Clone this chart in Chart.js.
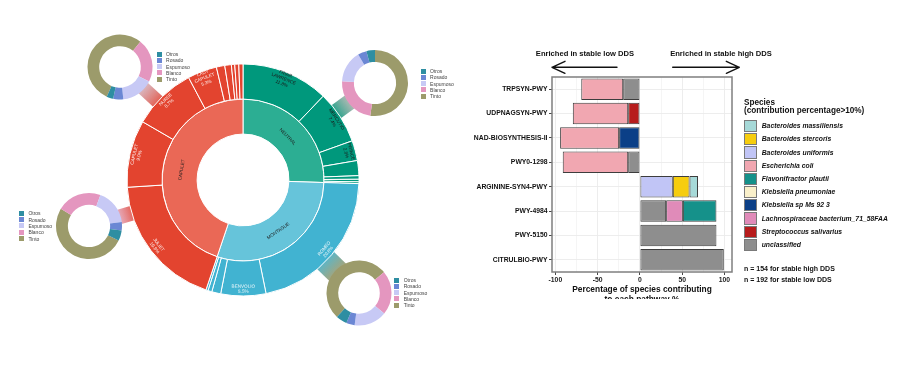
<!DOCTYPE html>
<html><head><meta charset="utf-8">
<script src="https://cdn.jsdelivr.net/npm/chart.js@4.4.1/dist/chart.umd.min.js"></script>
<style>
html,body{margin:0;padding:0;background:#fff;width:900px;height:383px;overflow:hidden;font-family:"Liberation Sans",Arial,sans-serif;}
canvas{position:absolute;}
.lg{position:absolute;font-size:5px;color:#444;}
.lg .row{position:absolute;left:0;height:6.3px;display:flex;align-items:center;white-space:nowrap;}
.lg .bx{display:inline-block;width:5px;height:5px;margin-right:4.4px;}
#barwrap{position:absolute;left:440px;top:40px;width:360px;height:259px;overflow:hidden;}
.bl{position:absolute;white-space:nowrap;font-weight:bold;color:#111;}
.key{position:absolute;box-sizing:border-box;border:1px solid #7a7a7a;width:13px;height:12.3px;}
</style></head><body>
<canvas id="sun" width="440" height="383" style="left:0;top:0;width:440px;height:383px"></canvas>
<div id="donuts"></div>
<div id="barwrap"><canvas id="bars" width="360" height="266" style="left:0;top:0;width:360px;height:266px"></canvas></div>
<div id="barlegend"></div>
<script>
// ---------- Sunburst data ----------
const innerLabels = ['NEUTRAL','MONTAGUE','CAPULET'];
const innerValues = [25.6, 29.8, 45.0];
const innerColors = ['#2CAE93','#66C4DA','#EA6856'];

const outerNames = ['FRIAR LAWRENCE','MERCUTIO','PRINCE','PARIS','APOTHECARY','FRIAR JOHN','PAGE',
  'ROMEO','BENVOLIO','BALTHASAR','LADY MONTAGUE','ABRAHAM',
  'JULIET','CAPULET','NURSE','LADY CAPULET','TYBALT','SAMPSON','GREGORY','PETER','SERVANT'];
const outerParents = [0,0,0,0,0,0,0, 1,1,1,1,1, 2,2,2,2,2,2,2,2,2];
const outerValues = [12.2,7.4,2.8,2.1,0.5,0.35,0.25,
  21.4,6.3,1.25,0.55,0.3,
  18.9,9.4,8.9,4.1,1.17,0.92,0.47,0.56,0.58];
const outerText = ['FRIAR\nLAWRENCE\n11.8%','MERCUTIO\n7.4%','PRINCE\n2.8%','','','','',
  'ROMEO\n20.8%','BENVOLIO\n5.5%','','','',
  'JULIET\n19.8%','CAPULET\n9.0%','NURSE\n8.7%','LADY\nCAPULET\n5.3%','','','','',''];
const outerColorsByParent = ['#00987C','#41B3D1','#E3442F'];
const outerTextColorsByParent = ['#1a1a1a','rgba(255,255,255,0.92)','rgba(255,255,255,0.92)'];

// ---------- Callout donuts ----------
const donutCats = ['Otros','Rosado','Espumoso','Blanco','Tinto'];
const donutColors = ['#2E8EA2','#6B87D4','#C7C9F5','#E496BF','#9C9B6B'];
const donutNurse    = [3.3, 5.0, 16.0, 21.6, 54.1];
const donutMercutio = [4.2, 4.3, 15.7, 23.5, 52.3];
const donutJuliet   = [5.0, 4.1, 17.5, 21.9, 51.5];
const donutRomeo    = [5.5, 4.2, 16.3, 21.9, 52.1];

const callouts = [
  {values: donutNurse,    cx:120, cy:66.7, r:32.5, rot:204,   w:14, c0:'rgba(226,68,50,0.92)', c1:'rgba(205,158,168,0.75)', lgx:156.7, lgy:50.9},
  {values: donutMercutio, cx:375, cy:83.3, r:33,   rot:0,     w:16, c0:'rgba(0,152,124,0.92)', c1:'rgba(140,162,152,0.75)', lgx:420.7, lgy:67.9},
  {values: donutJuliet,   cx:89.3,cy:226,  r:33,   rot:116,   w:15, c0:'rgba(226,68,50,0.92)', c1:'rgba(222,140,160,0.75)', lgx:19,    lgy:210.2},
  {values: donutRomeo,    cx:359.3,cy:293.3,r:32.5,rot:222.7, w:24, c0:'rgba(65,179,209,0.92)', c1:'rgba(152,152,106,0.88)', lgx:394.3, lgy:276.9}
];

// ---------- Bar chart data ----------
const pathways = ['TRPSYN-PWY','UDPNAGSYN-PWY','NAD-BIOSYNTHESIS-II','PWY0-1298','ARGININE-SYN4-PWY','PWY-4984','PWY-5150','CITRULBIO-PWY'];
const speciesNames = ['Bacteroides massiliensis','Bacteroides stercoris','Bacteroides uniformis','Escherichia coli','Flavonifractor plautii','Klebsiella pneumoniae','Klebsiella sp Ms 92 3','Lachnospiraceae bacterium_71_58FAA','Streptococcus salivarius','unclassified'];
const speciesColors = ['#A6D9D8','#F6CD0F','#C1C5F6','#F1A7B1','#15918A','#FAF0CA','#0B3F87','#E08BB9','#B71C1C','#8E8E8E'];
const bMassiliensis = [null,null,null,null,10.0,null,null,null];
const bStercoris    = [null,null,null,null,19.8,null,null,null];
const bUniformis    = [null,null,null,null,38.9,null,null,null];
const eColi         = [-49.6,-65.5,-69.8,-77.4,null,null,null,null];
const fPlautii      = [null,null,null,null,null,39.7,null,null];
const kPneumoniae   = [null,null,null,null,null,null,null,null];
const kSpMs923      = [null,null,-24.6,null,null,null,null,null];
const lachno        = [null,null,null,null,null,19.8,null,null];
const sSalivarius   = [null,-13.9,null,null,null,null,null,null];
const unclassified  = [-19.8,null,null,-13.9,null,31.0,90.5,99.2];
const xTickValues = [-100,-75,-50,-25,0,25,50,75,100];
const xAxisTitle = ['Percentage of species contributing','to each pathway %'];
const enrichedLow = 'Enriched in stable low DDS';
const enrichedHigh = 'Enriched in stable high DDS';
const legendTitle = ['Species','(contribution percentage>10%)'];
const nNotes = ['n = 154 for stable high DDS','n = 192 for stable low DDS'];

const FONT = '"Liberation Sans", Arial, sans-serif';

// ---------- Sunburst ----------
const connectorPlugin = {
  id:'connectors',
  beforeDatasetsDraw(chart){
    const ctx = chart.ctx;
    const arc0 = chart.getDatasetMeta(0).data[0];
    const C = {x: arc0.x, y: arc0.y};
    callouts.forEach(c=>{
      const dx = c.cx - C.x, dy = c.cy - C.y, d = Math.hypot(dx,dy);
      const ux = dx/d, uy = dy/d, nx = -uy, ny = ux;
      const s = 100, e = d - Math.sqrt(c.r*c.r - (c.w/2)*(c.w/2)) + 0.5;
      const g = ctx.createLinearGradient(C.x+ux*112, C.y+uy*112, C.x+ux*e, C.y+uy*e);
      g.addColorStop(0, c.c0); g.addColorStop(1, c.c1);
      ctx.save();
      ctx.fillStyle = g;
      ctx.beginPath();
      ctx.moveTo(C.x+ux*s+nx*c.w/2, C.y+uy*s+ny*c.w/2);
      ctx.lineTo(C.x+ux*e+nx*c.w/2, C.y+uy*e+ny*c.w/2);
      ctx.lineTo(C.x+ux*e-nx*c.w/2, C.y+uy*e-ny*c.w/2);
      ctx.lineTo(C.x+ux*s-nx*c.w/2, C.y+uy*s-ny*c.w/2);
      ctx.closePath(); ctx.fill();
      ctx.restore();
    });
  }
};
const sunLabelPlugin = {
  id:'sunLabels',
  afterDatasetsDraw(chart){
    const ctx = chart.ctx;
    const specs = [
      {ds:0, texts: outerText, color: i=>outerTextColorsByParent[outerParents[i]], rf:0.8},
      {ds:1, texts: innerLabels, color: ()=>'#1e1e1e', rf:0.46}
    ];
    specs.forEach(sp=>{
      chart.getDatasetMeta(sp.ds).data.forEach((arc,i)=>{
        const t = sp.texts[i]; if(!t) return;
        const a = (arc.startAngle+arc.endAngle)/2;
        const r = arc.innerRadius + (arc.outerRadius-arc.innerRadius)*sp.rf;
        let rot = a + Math.PI/2;
        rot = Math.atan2(Math.sin(rot), Math.cos(rot));
        if (rot > Math.PI/2) rot -= Math.PI;
        if (rot < -Math.PI/2) rot += Math.PI;
        const lines = t.split('\n');
        ctx.save();
        ctx.translate(arc.x + r*Math.cos(a), arc.y + r*Math.sin(a));
        ctx.rotate(rot);
        ctx.fillStyle = sp.color(i);
        ctx.font = '4.6px ' + FONT;
        ctx.textAlign = 'center'; ctx.textBaseline = 'middle';
        const lh = 5.2;
        lines.forEach((ln,k)=> ctx.fillText(ln, 0, (k-(lines.length-1)/2)*lh));
        ctx.restore();
      });
    });
  }
};
new Chart(document.getElementById('sun'), {
  type:'doughnut',
  data:{
    labels: outerNames,
    datasets:[
      {data: outerValues, backgroundColor: outerParents.map(p=>outerColorsByParent[p]), borderColor:'#fff', borderWidth:1},
      {data: innerValues, backgroundColor: innerColors, borderColor:'#fff', borderWidth:1}
    ]
  },
  options:{
    responsive:false, animation:false, events:[],
    radius:116, cutout:'39.6%',
    layout:{padding:{left:123,right:77,top:60,bottom:83}},
    plugins:{legend:{display:false}, tooltip:{enabled:false}}
  },
  plugins:[connectorPlugin, sunLabelPlugin]
});

// donuts + legends
const dHost = document.getElementById('donuts');
callouts.forEach((c,idx)=>{
  const size = 72;
  const cv = document.createElement('canvas');
  cv.width = size; cv.height = size;
  cv.style.cssText = `left:${c.cx-size/2}px;top:${c.cy-size/2}px;width:${size}px;height:${size}px`;
  dHost.appendChild(cv);
  // chart draws clockwise; reference goes counter-clockwise in category order
  const vals = c.values.slice().reverse();
  const cols = donutColors.slice().reverse();
  new Chart(cv, {
    type:'doughnut',
    data:{labels: donutCats.slice().reverse(), datasets:[{data: vals, backgroundColor: cols, borderWidth:0}]},
    options:{responsive:false, animation:false, events:[], radius:c.r, cutout:'64%', rotation:c.rot,
      plugins:{legend:{display:false}, tooltip:{enabled:false}}}
  });
  const lg = document.createElement('div');
  lg.className = 'lg';
  lg.style.left = c.lgx+'px'; lg.style.top = c.lgy+'px';
  donutCats.forEach((name,k)=>{
    const row = document.createElement('div');
    row.className = 'row'; row.style.top = (k*6.3)+'px';
    row.innerHTML = `<span class="bx" style="background:${donutColors[k]}"></span>${name}`;
    lg.appendChild(row);
  });
  dHost.appendChild(lg);
});

// ---------- Bars ----------
const seriesByName = {
  'Bacteroides massiliensis': bMassiliensis,
  'Bacteroides stercoris': bStercoris,
  'Bacteroides uniformis': bUniformis,
  'Escherichia coli': eColi,
  'Flavonifractor plautii': fPlautii,
  'Klebsiella pneumoniae': kPneumoniae,
  'Klebsiella sp Ms 92 3': kSpMs923,
  'Lachnospiraceae bacterium_71_58FAA': lachno,
  'Streptococcus salivarius': sSalivarius,
  'unclassified': unclassified
};
const stackOrder = ['unclassified','Streptococcus salivarius','Klebsiella sp Ms 92 3','Bacteroides uniformis','Bacteroides stercoris','Bacteroides massiliensis','Lachnospiraceae bacterium_71_58FAA','Flavonifractor plautii','Escherichia coli','Klebsiella pneumoniae'];
const barDatasets = stackOrder.map(n=>({
  label:n, data: seriesByName[n],
  backgroundColor: speciesColors[speciesNames.indexOf(n)],
  borderColor:'#3d3d3d', borderWidth:1, borderSkipped:false,
  barPercentage:0.88, categoryPercentage:1
}));
const barDecor = {
  id:'barDecor',
  afterDatasetsDraw(chart){
    const {ctx, chartArea:a} = chart;
    ctx.save();
    ctx.strokeStyle = '#7f7f7f'; ctx.lineWidth = 1.5;
    ctx.strokeRect(a.left, a.top, a.right-a.left, a.bottom-a.top);
    ctx.restore();
  },
  afterDraw(chart){
    const ctx = chart.ctx;
    const ox = 440, oy = 40;
    ctx.save();
    ctx.fillStyle = '#111';
    ctx.font = 'bold 7.6px ' + FONT;
    ctx.textAlign = 'center'; ctx.textBaseline = 'middle';
    ctx.fillText(enrichedLow, 585-ox, 54-oy);
    ctx.fillText(enrichedHigh, 721-ox, 54-oy);
    ctx.strokeStyle = '#111'; ctx.lineWidth = 1.4; ctx.lineCap='round'; ctx.lineJoin='round';
    const y = 67.3-oy;
    ctx.beginPath();
    ctx.moveTo(617-ox, y); ctx.lineTo(552-ox, y);
    ctx.moveTo(565-ox, y-6); ctx.lineTo(552-ox, y); ctx.lineTo(565-ox, y+6);
    ctx.moveTo(672.7-ox, y); ctx.lineTo(739.3-ox, y);
    ctx.moveTo(726.3-ox, y-6); ctx.lineTo(739.3-ox, y); ctx.lineTo(726.3-ox, y+6);
    ctx.stroke();
    ctx.restore();
  }
};
new Chart(document.getElementById('bars'), {
  type:'bar',
  data:{labels: pathways, datasets: barDatasets},
  options:{
    indexAxis:'y', responsive:false, animation:false, events:[],
    layout:{padding:{left:0,right:68,top:37,bottom:0}},
    plugins:{legend:{display:false}, tooltip:{enabled:false}},
    scales:{
      x:{
        stacked:true, min:-104, max:108.9,
        afterBuildTicks: s=>{ s.ticks = xTickValues.map(v=>({value:v})); },
        afterFit: s=>{ s.height = 34; },
        border:{display:false},
        grid:{color:'#ebebeb', lineWidth: c=> (c.tick && c.tick.value%50===0) ? 0.9 : 0.5,
              tickColor: c=> (c.tick && c.tick.value%50===0) ? '#333' : 'rgba(0,0,0,0)', tickLength:3},
        ticks:{color:'#222', font:{family:FONT, size:6.8, weight:'bold'}, padding:1.5, maxRotation:0,
               autoSkip:false, callback: v=> (v%50===0 ? String(v) : '')},
        title:{display:true, text:xAxisTitle, color:'#111', font:{family:FONT, size:8.4, weight:'bold', lineHeight:1.15}, padding:{top:0,bottom:1.8}}
      },
      y:{
        stacked:true,
        afterFit: s=>{ s.width = 112; },
        border:{display:false},
        grid:{color:'#ebebeb', lineWidth:0.9, offset:false, tickColor:'#333', tickLength:3},
        ticks:{color:'#111', font:{family:FONT, size:6.8, weight:'bold'}, padding:1.5, autoSkip:false}
      }
    }
  },
  plugins:[barDecor]
});

// bar legend (HTML)
const bl = document.getElementById('barlegend');
function addText(txt, x, yc, size, style){
  const d = document.createElement('div');
  d.className = 'bl';
  d.textContent = txt;
  d.style.cssText += `left:${x}px;top:${yc-size*0.6}px;font-size:${size}px;line-height:${size*1.2}px;${style||''}`;
  bl.appendChild(d);
}
addText(legendTitle[0], 744, 102.7, 8.2);
addText(legendTitle[1], 744, 111.2, 8.2);
speciesNames.forEach((n,i)=>{
  const top = 120 + i*13.2;
  const k = document.createElement('div');
  k.className = 'key';
  k.style.left = '744px'; k.style.top = top+'px'; k.style.background = speciesColors[i];
  bl.appendChild(k);
  addText(n, 761.7, top+6.2, 6.8, 'font-style:italic;');
});
addText(nNotes[0], 744, 268.7, 7);
addText(nNotes[1], 744, 280, 7);
</script>
</body></html>
